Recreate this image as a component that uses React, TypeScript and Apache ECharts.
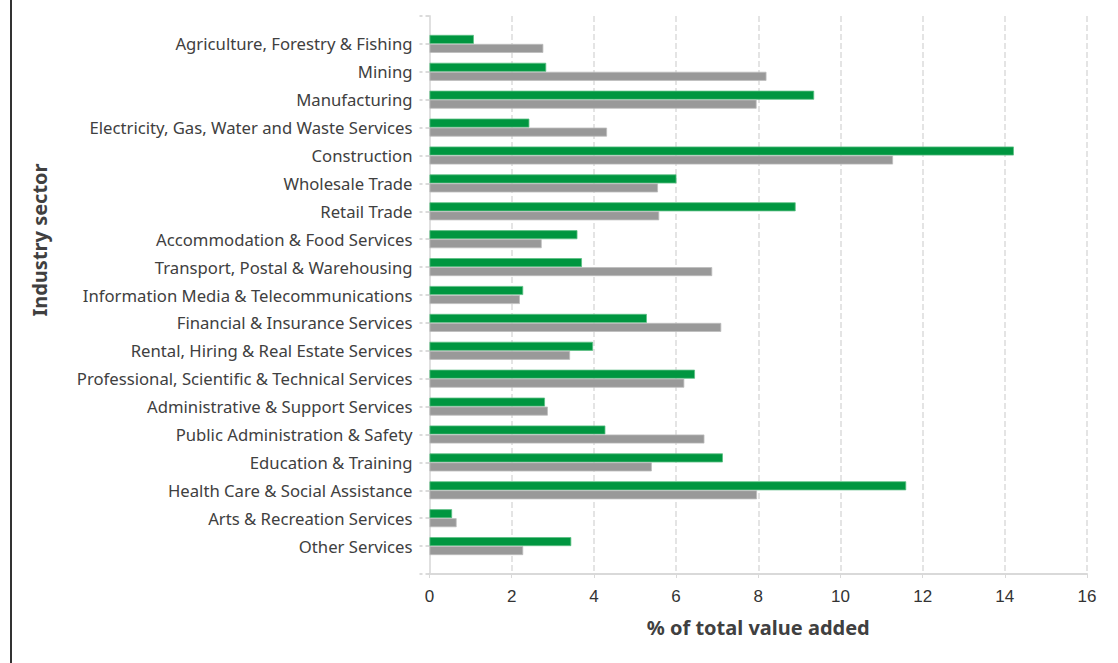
import React, { useEffect, useRef } from "react";
import * as echarts from "echarts";

const categories = [
  "Agriculture, Forestry & Fishing",
  "Mining",
  "Manufacturing",
  "Electricity, Gas, Water and Waste Services",
  "Construction",
  "Wholesale Trade",
  "Retail Trade",
  "Accommodation & Food Services",
  "Transport, Postal & Warehousing",
  "Information Media & Telecommunications",
  "Financial & Insurance Services",
  "Rental, Hiring & Real Estate Services",
  "Professional, Scientific & Technical Services",
  "Administrative & Support Services",
  "Public Administration & Safety",
  "Education & Training",
  "Health Care & Social Assistance",
  "Arts & Recreation Services",
  "Other Services",
];

const greenValues = [1.08, 2.84, 9.36, 2.43, 14.22, 6.01, 8.91, 3.6, 3.71, 2.28, 5.29, 3.98, 6.46, 2.81, 4.28, 7.14, 11.6, 0.55, 3.45];
const greyValues = [2.77, 8.2, 7.96, 4.32, 11.28, 5.56, 5.59, 2.73, 6.88, 2.2, 7.1, 3.42, 6.2, 2.88, 6.69, 5.41, 7.97, 0.66, 2.28];

const xTicks = { min: 0, max: 16, interval: 2 };

export default function App() {
  const ref = useRef<HTMLDivElement>(null);
  useEffect(() => {
    if (!ref.current) return;
    const chart = echarts.init(ref.current, undefined, { renderer: "svg" });
    const padCats = ["", ...categories, ""];
    const pad = (arr: number[]) => [null, ...arr, null];
    chart.setOption({
      animation: false,
      backgroundColor: "#ffffff",
      grid: { left: 429.5, right: 31, top: 16, bottom: 89, containLabel: false },
      xAxis: {
        type: "value",
        min: xTicks.min,
        max: xTicks.max,
        interval: xTicks.interval,
        name: "% of total value added",
        nameLocation: "middle",
        nameGap: 43,
        nameTextStyle: { fontFamily: "Noto Sans", fontWeight: "bold", fontSize: 20, color: "#404040" },
        axisLine: { show: true, lineStyle: { color: "#d9d9d9", width: 2 } },
        axisTick: { show: true, length: 5, lineStyle: { color: "#d9d9d9", type: [4, 3] } },
        axisLabel: { fontFamily: "Liberation Sans Narrow, Liberation Sans", fontSize: 17, color: "#333333", margin: 14 },
        splitLine: { show: true, lineStyle: { color: "#dcdcdc", width: 1.5, type: [6, 3] } },
      },
      yAxis: {
        type: "category",
        data: padCats,
        inverse: true,
        boundaryGap: false,
        axisLine: { show: true, lineStyle: { color: "#e0e0e0", width: 2 } },
        axisTick: { show: true, length: 10, interval: 0, lineStyle: { color: "#d0d0d0", width: 1.5, type: [4, 3] } },
        axisLabel: { interval: 0, fontFamily: "Noto Sans", fontSize: 16.7, color: "#404040", margin: 17, padding: [3, 0, 0, 0] },
        splitLine: { show: false },
      },
      series: [
        {
          name: "Selected area",
          type: "bar",
          data: pad(greenValues),
          barWidth: 9,
          barGap: "0%",
          itemStyle: { color: "#009640", borderColor: "#5cbf83", borderWidth: 0.8 },
        },
        {
          name: "Comparison",
          type: "bar",
          data: pad(greyValues),
          barWidth: 9,
          barGap: "0%",
          itemStyle: { color: "#999999", borderColor: "#bdbdbd", borderWidth: 0.8 },
        },
      ],
      graphic: [
        { type: "rect", shape: { x: 10, y: 0, width: 2, height: 663 }, style: { fill: "#333333" } },
        {
          type: "text",
          x: 39,
          y: 240,
          rotation: Math.PI / 2,
          style: {
            text: "Industry sector",
            fontFamily: "Noto Sans",
            fontWeight: "bold",
            fontSize: 20,
            fill: "#404040",
            align: "center",
            verticalAlign: "middle",
          },
        },
      ],
    });
    return () => chart.dispose();
  }, []);
  return <div ref={ref} style={{ position: "fixed", left: 0, top: 0, width: 1118, height: 663 }} />;
}
